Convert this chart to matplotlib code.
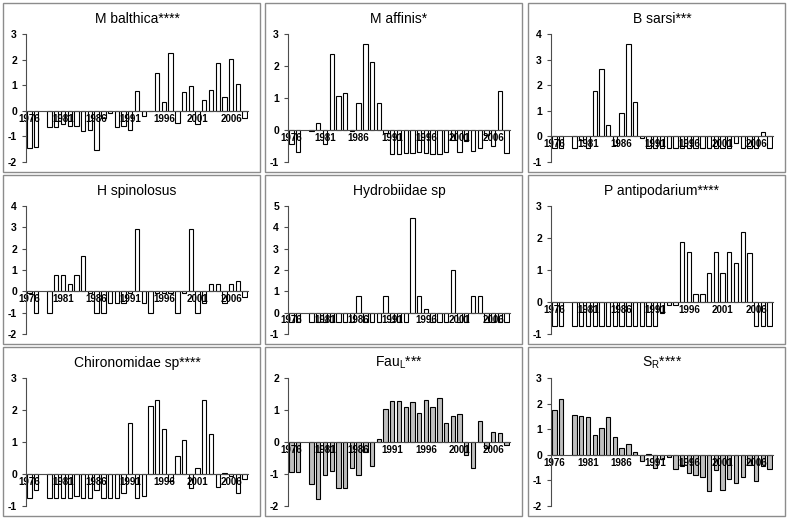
import matplotlib
matplotlib.use("Agg")
import matplotlib.pyplot as plt
from matplotlib.patches import Rectangle
import numpy as np

nan = np.nan
years = list(range(1976, 2009))
year_ticks = [1976, 1981, 1986, 1991, 1996, 2001, 2006]

m_balthica = [-1.45, -1.40, nan, -0.65, -0.65, -0.50, -0.60, -0.60, -0.80, -0.75,
              -1.55, -0.30, -0.07, -0.65, -0.60, -0.75, 0.78, -0.20, -0.02, 1.48,
              0.35, 2.25, -0.48, 0.73, 0.97, -0.50, 0.43, 0.80, 1.87, 0.53,
              2.03, 1.05, -0.28]
m_affinis = [-0.45, -0.70, nan, -0.03, 0.23, -0.45, 2.38, 1.07, 1.17, -0.02,
             0.83, 2.68, 2.12, 0.83, -0.10, -0.75, -0.75, -0.73, -0.73, -0.70,
             -0.72, -0.75, -0.75, -0.70, -0.30, -0.70, -0.35, -0.65, -0.55, -0.17,
             -0.50, 1.22, -0.72]
b_sarsi = [-0.45, -0.45, nan, -0.45, -0.15, -0.45, 1.78, 2.62, 0.43, -0.35,
           0.92, 3.62, 1.35, -0.05, -0.45, -0.45, -0.45, -0.45, -0.45, -0.45,
           -0.45, -0.45, -0.45, -0.45, -0.45, -0.45, -0.45, -0.25, -0.45, -0.45,
           -0.45, 0.17, -0.45]
h_spinolosus = [-0.10, -1.00, nan, -1.00, 0.78, 0.78, 0.33, 0.78, 1.65, -0.10,
                -1.00, -1.00, -0.55, -0.55, -0.55, -0.10, 2.93, -0.55, -1.00, -0.10,
                -0.10, -0.10, -1.00, -0.10, 2.93, -1.00, -0.55, 0.33, 0.33, -0.55,
                0.33, 0.50, -0.25]
hydrobiidae = [-0.45, -0.45, nan, -0.45, -0.45, -0.45, -0.45, -0.45, -0.45, -0.45,
               0.80, -0.45, -0.45, -0.45, 0.80, -0.45, -0.45, -0.45, 4.42, 0.80,
               0.17, -0.45, -0.45, -0.45, 2.00, -0.45, -0.45, 0.80, 0.80, -0.45,
               -0.45, -0.45, -0.45]
p_antipodarium = [-0.75, -0.75, nan, -0.75, -0.75, -0.75, -0.75, -0.75, -0.75, -0.75,
                  -0.75, -0.75, -0.75, -0.75, -0.75, -0.75, -0.35, -0.10, -0.10, 1.87,
                  1.55, 0.25, 0.25, 0.90, 1.55, 0.90, 1.55, 1.22, 2.20, 1.52,
                  -0.75, -0.75, -0.75]
chironomidae = [-0.75, -0.50, nan, -0.75, -0.75, -0.75, -0.75, -0.68, -0.75, -0.75,
                -0.50, -0.75, -0.75, -0.75, -0.58, 1.58, -0.75, -0.68, 2.13, 2.30,
                1.42, -0.22, 0.55, 1.07, -0.45, 0.20, 2.30, 1.25, -0.40, 0.03,
                -0.07, -0.60, -0.17]
fau_l = [-0.93, -0.95, nan, -1.30, -1.78, -1.02, -0.90, -1.43, -1.43, -0.82,
         -1.02, -0.30, -0.75, 0.10, 1.02, 1.27, 1.27, 1.10, 1.25, 0.92,
         1.32, 1.10, 1.37, 0.60, 0.82, 0.88, -0.40, -0.82, 0.65, -0.18,
         0.30, 0.27, -0.08]
s_r = [1.75, 2.18, nan, 1.57, 1.53, 1.48, 0.78, 1.05, 1.48, 0.70,
       0.27, 0.43, 0.10, -0.25, 0.05, -0.50, -0.15, -0.07, -0.55, -0.45,
       -0.70, -0.80, -0.88, -1.42, -0.60, -1.38, -0.95, -1.12, -0.85, -0.40,
       -1.02, -0.45, -0.55]

titles = ["M balthica****", "M affinis*", "B sarsi***",
          "H spinolosus", "Hydrobiidae sp", "P antipodarium****",
          "Chironomidae sp****", r"Fau$_\mathregular{L}$***", r"S$_\mathregular{R}$****"]
series = [m_balthica, m_affinis, b_sarsi, h_spinolosus, hydrobiidae,
          p_antipodarium, chironomidae, fau_l, s_r]
ylims = [(-2, 3), (-1, 3), (-1, 4), (-2, 4), (-1, 5), (-1, 3), (-1, 3), (-2, 2), (-2, 3)]
fills = ["white"] * 7 + ["#bfbfbf"] * 2

plt.rcParams['font.family'] = ['Liberation Sans', 'DejaVu Sans']
plt.rcParams['mathtext.fontset'] = 'custom'
plt.rcParams['mathtext.rm'] = 'Liberation Sans'
plt.rcParams['axes.unicode_minus'] = False

W, H = 789, 520
fig = plt.figure(figsize=(W / 100, H / 100), dpi=100)

col_left = [3, 265, 528]
row_top = [3, 175, 347]
box_w, box_h = 257, 169

for i in range(9):
    r, c = divmod(i, 3)
    bx, by = col_left[c], row_top[r]
    # panel frame
    fig.patches.append(Rectangle((bx / W, 1 - (by + box_h) / H), box_w / W, box_h / H,
                                 transform=fig.transFigure, fill=False,
                                 edgecolor="#8c8c8c", linewidth=1))
    ax_left = bx + 23
    ax_top = by + 31
    ax = fig.add_axes([ax_left / W, 1 - (ax_top + 128) / H, 222 / W, 128 / H])
    ax.bar(years, series[i], width=0.65, color=fills[i], edgecolor="black", linewidth=0.8)
    ax.set_xlim(1975.5, 2008.5)
    ax.set_ylim(*ylims[i])
    ax.set_yticks(range(ylims[i][0], ylims[i][1] + 1))
    ax.set_xticks(year_ticks)
    ax.set_xticklabels([str(y) for y in year_ticks])
    for s in ['top', 'right']:
        ax.spines[s].set_visible(False)
    ax.spines['bottom'].set_position(('data', 0))
    ax.spines['bottom'].set_color("#4d4d4d")
    ax.spines['left'].set_color("#4d4d4d")
    ax.tick_params(axis='x', length=0, pad=2, labelsize=7)
    ax.tick_params(axis='y', length=3, width=0.8, color="#4d4d4d", labelsize=7.5)
    for lab in ax.get_xticklabels() + ax.get_yticklabels():
        lab.set_fontweight('bold')
    ax.set_title(titles[i], fontsize=10, pad=8)

fig.savefig("out.png", dpi=100)
